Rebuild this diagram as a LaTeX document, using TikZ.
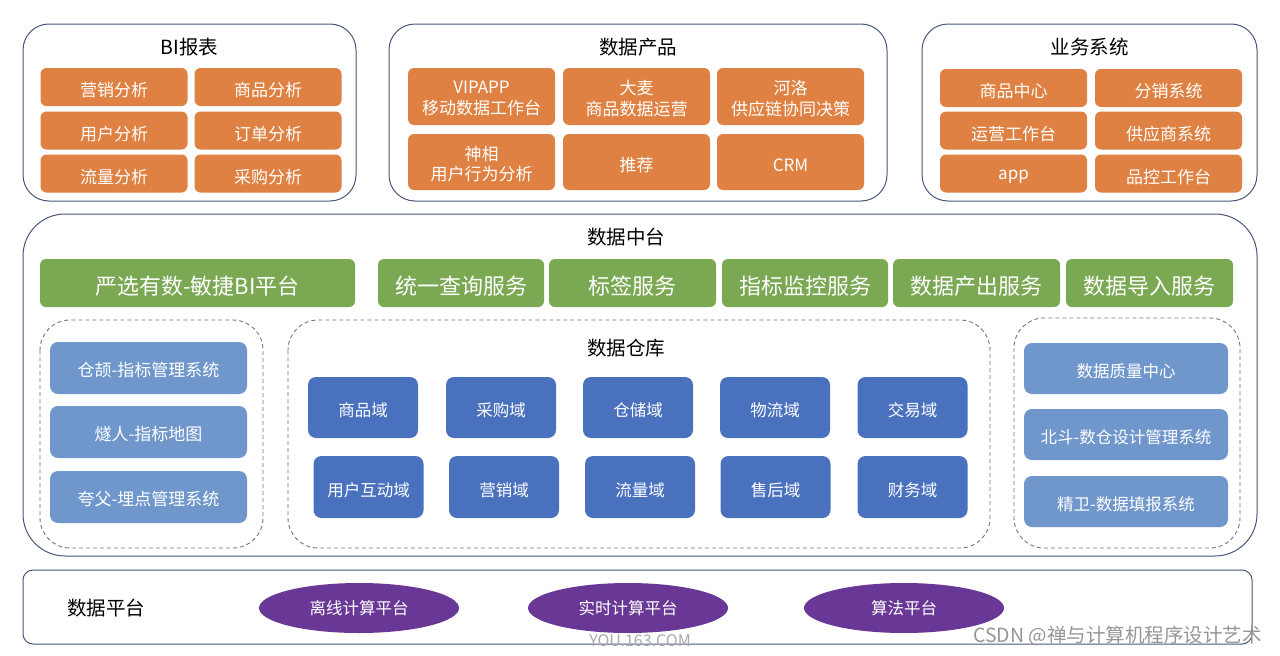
\documentclass[tikz,border=0pt]{standalone}
\usepackage{fontspec}
\setmainfont{Noto Sans CJK SC}
\usetikzlibrary{shapes.geometric}
\definecolor{frame}{RGB}{72,88,124}
\definecolor{dashc}{RGB}{110,118,140}
\definecolor{orng}{RGB}{223,129,67}
\definecolor{grn}{RGB}{122,168,83}
\definecolor{lblue}{RGB}{112,151,204}
\definecolor{dblue}{RGB}{74,113,190}
\definecolor{purp}{RGB}{105,56,150}
\begin{document}
\begin{tikzpicture}[x=1pt,y=-1pt,
  panel/.style={draw=frame, line width=1pt, rounded corners=#1},
  dpanel/.style={draw=dashc, line width=0.9pt, dash pattern=on 4pt off 3pt, rounded corners=30pt},
  ttl/.style={font=\fontsize{19.5}{22}\selectfont, text=black, inner sep=0pt},
  obox/.style={fill=orng, rounded corners=6pt, text=white, inner sep=0pt, outer sep=0pt,
    font=\fontsize{17}{20.5}\selectfont, minimum width=147pt, minimum height=38pt,
    text height=20.6pt, text depth=1pt},
  otext/.style={text=white, inner sep=0pt, align=center, font=\fontsize{17}{20.5}\selectfont},
  gbox/.style={fill=grn, rounded corners=6pt, text=white, inner sep=0pt, outer sep=0pt,
    text height=23.9pt, text depth=1pt,
    font=\fontsize{22}{24}\selectfont, minimum height=48pt},
  lbbox/.style={fill=lblue, rounded corners=8pt, text=white, inner sep=0pt, outer sep=0pt,
    text height=17.6pt, text depth=1pt,
    font=\fontsize{17}{20}\selectfont, minimum height=52pt},
  rbbox/.style={lbbox, font=\fontsize{16.5}{20}\selectfont, text height=18.2pt, text depth=1pt,
    minimum width=204pt, minimum height=51pt},
  dbbox/.style={fill=dblue, rounded corners=8pt, text=white, inner sep=0pt, outer sep=0pt,
    text height=19.6pt, text depth=1pt,
    font=\fontsize{16.5}{20}\selectfont, minimum width=110pt, minimum height=61pt},
  pell/.style={ellipse, fill=purp, text=white, inner sep=0pt, minimum width=200pt, minimum height=50pt,
    font=\fontsize{16.5}{18}\selectfont}
]
\useasboundingbox (0,0) rectangle (1280,656);
\fill[white] (0,0) rectangle (1280,656);

% ---------- top panels ----------
\draw[panel=26pt] (23,24) rectangle (356,201);
\draw[panel=26pt] (389,24) rectangle (887,201);
\draw[panel=26pt] (922,24) rectangle (1257,201);
\node[ttl] (tBI) at (189.5,47) {BI报表};
\node[ttl] (tDP) at (638,47) {数据产品};
\node[ttl] (tYW) at (1089.5,47) {业务系统};

% BI报表
\node[obox] (b11) at (114,87) {营销分析};
\node[obox] (b12) at (268,87) {商品分析};
\node[obox] (b21) at (114,130.5) {用户分析};
\node[obox] (b22) at (268,130.5) {订单分析};
\node[obox] (b31) at (114,173.5) {流量分析};
\node[obox] (b32) at (268,173.5) {采购分析};

% 数据产品
\node[obox, minimum height=57pt] (p11) at (481.5,96.5) {};
\node[otext] (p11t) at ([yshift=-2pt]p11.center) {VIPAPP\\移动数据工作台};
\node[obox, minimum height=57pt] (p12) at (636.5,96.5) {};
\node[otext] (p12t) at ([yshift=-2pt]p12.center) {大麦\\商品数据运营};
\node[obox, minimum height=57pt] (p13) at (790.5,96.5) {};
\node[otext] (p13t) at ([yshift=-2pt]p13.center) {河洛\\供应链协同决策};
\node[obox, minimum height=56pt] (p21) at (481.5,162) {};
\node[otext] (p21t) at ([yshift=-2pt]p21.center) {神相\\用户行为分析};
\node[obox, minimum height=56pt] (p22) at (636.5,162) {推荐};
\node[obox, minimum height=56pt] (p23) at (790.5,162) {CRM};

% 业务系统
\node[obox] (y11) at (1013.5,88) {商品中心};
\node[obox] (y12) at (1168.5,88) {分销系统};
\node[obox] (y21) at (1013.5,130.5) {运营工作台};
\node[obox] (y22) at (1168.5,130.5) {供应商系统};
\node[obox, text height=15pt, text depth=3pt] (y31) at (1013.5,173.5) {app};
\node[obox] (y32) at (1168.5,173.5) {品控工作台};

% ---------- 数据中台 ----------
\draw[panel=42pt] (23,214) rectangle (1257,556);
\node[ttl] (tZT) at (626,237) {数据中台};

\node[gbox, minimum width=315pt] (g1) at (197.5,283) {严选有数-敏捷BI平台};
\node[gbox, minimum width=166pt] (g2) at (461,283) {统一查询服务};
\node[gbox, minimum width=167pt] (g3) at (632.5,283) {标签服务};
\node[gbox, minimum width=166pt] (g4) at (805,283) {指标监控服务};
\node[gbox, minimum width=167pt] (g5) at (976.5,283) {数据产出服务};
\node[gbox, minimum width=167pt] (g6) at (1149.5,283) {数据导入服务};

% left dashed group
\draw[dpanel] (40,320) rectangle (263,548);
\node[lbbox, minimum width=197pt] (l1) at (148.5,368) {仓颉-指标管理系统};
\node[lbbox, minimum width=197pt] (l2) at (148.5,432) {燧人-指标地图};
\node[lbbox, minimum width=197pt] (l3) at (148.5,497) {夸父-埋点管理系统};

% data warehouse
\draw[dpanel] (288,320) rectangle (990,548);
\node[ttl] (tCK) at (626,348) {数据仓库};
\node[dbbox] (d11) at (363,407.5) {商品域};
\node[dbbox] (d12) at (501,407.5) {采购域};
\node[dbbox] (d13) at (638,407.5) {仓储域};
\node[dbbox] (d14) at (775,407.5) {物流域};
\node[dbbox] (d15) at (912.5,407.5) {交易域};
\node[dbbox, minimum height=62pt] (d21) at (368.5,487) {用户互动域};
\node[dbbox, minimum height=62pt] (d22) at (504,487) {营销域};
\node[dbbox, minimum height=62pt] (d23) at (640,487) {流量域};
\node[dbbox, minimum height=62pt] (d24) at (775.5,487) {售后域};
\node[dbbox, minimum height=62pt] (d25) at (912.5,487) {财务域};

% right dashed group
\draw[dpanel] (1014,318) rectangle (1240,548);
\node[rbbox] (r1) at (1126,368.5) {数据质量中心};
\node[rbbox] (r2) at (1126,434.5) {北斗-数仓设计管理系统};
\node[rbbox] (r3) at (1126,501.5) {精卫-数据填报系统};

% ---------- 数据平台 ----------
\draw[panel=10pt] (23,570) rectangle (1252,644);
\node[ttl] (tPT) at (106,608) {数据平台};
\node[pell] (e1) at (359,608) {离线计算平台};
\node[pell] (e2) at (628,608) {实时计算平台};
\node[pell] (e3) at (904,608) {算法平台};

% watermarks
\node[text={rgb,255:red,170;green,170;blue,170}, font=\fontsize{16}{18}\selectfont, inner sep=0pt] (w1) at (640,641) {YOU.163.COM};
\node[text={rgb,255:red,150;green,150;blue,150}, font=\fontsize{19.5}{22}\selectfont, inner sep=0pt] (w2) at (1117.5,636) {CSDN @禅与计算机程序设计艺术};
\end{tikzpicture}
\end{document}
